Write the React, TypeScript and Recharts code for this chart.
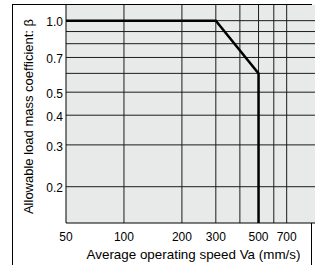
import React from 'react';
import {
  LineChart,
  Line,
  XAxis,
  YAxis,
  CartesianGrid,
  ReferenceLine,
} from 'recharts';

// axis limits (log scales)
const speedMin = 50;
const speedMax = 1000;
const betaMin = 0.1407;
const betaMax = 1.164;

// the limit curve: flat at 1.0 up to 300 mm/s, falls to 0.6 at 500, then drops
const speeds = [50, 300, 500, 500];
const betas = [1.0, 1.0, 0.6, betaMin];

const xTicks = [50, 100, 200, 300, 500, 700];
const yTicks = [0.2, 0.3, 0.4, 0.5, 0.7, 1.0];
const xGrid = [100, 200, 300, 400, 500, 600, 700];
const yGrid = [0.2, 0.3, 0.4, 0.5, 0.6, 0.7, 0.8, 0.9, 1.0];

const xTitle = 'Average operating speed Va (mm/s)';
const yTitle = 'Allowable load mass coefficient: β';

const data = speeds.map((s, i) => ({ speed: s, beta: betas[i] }));

const font = '"Liberation Sans", Arial, sans-serif';
const gridColor = '#1c1c1c';

const App: React.FC = () => {
  return (
    <div
      style={{
        position: 'absolute',
        left: 0,
        top: 0,
        width: 315,
        height: 265,
        overflow: 'hidden',
        background: '#fff',
        fontFamily: font,
      }}
    >
      {/* outer frame of the figure */}
      <div
        style={{
          position: 'absolute',
          left: 12,
          top: 4,
          width: 298,
          height: 300,
          border: '1px solid #000',
        }}
      />
      <LineChart
        width={330}
        height={265}
        data={data}
        margin={{ top: 5, right: 13.5, left: 0, bottom: 0 }}
        style={{ position: 'absolute', left: 0, top: 0 }}
      >
        <CartesianGrid horizontal={false} vertical={false} fill="#e8e9e9" />
        {xGrid.map((v) => (
          <ReferenceLine key={'x' + v} x={v} stroke={gridColor} strokeWidth={1} />
        ))}
        {yGrid.map((v) => (
          <ReferenceLine key={'y' + v} y={v} stroke={gridColor} strokeWidth={1} />
        ))}
        <XAxis
          dataKey="speed"
          type="number"
          scale="log"
          domain={[speedMin, speedMax]}
          allowDataOverflow
          ticks={xTicks}
          height={42}
          tickSize={0}
          tickMargin={9}
          tickLine={false}
          axisLine={{ stroke: '#000', strokeWidth: 1 }}
          tick={{ fill: '#000', fontSize: 12, fontFamily: font }}
          label={{
            content: () => (
              <text
                x={193.5}
                y={259}
                textAnchor="middle"
                fontSize={13.4}
                fontFamily={font}
                fill="#000"
              >
                {xTitle}
              </text>
            ),
          }}
        />
        <YAxis
          dataKey="beta"
          type="number"
          scale="log"
          domain={[betaMin, betaMax]}
          allowDataOverflow
          ticks={yTicks}
          width={66}
          tickSize={0}
          tickMargin={3}
          tickLine={false}
          axisLine={{ stroke: '#000', strokeWidth: 1 }}
          tick={{ fill: '#000', fontSize: 12, fontFamily: font, dy: 1.5 }}
          tickFormatter={(v: number) => v.toFixed(1)}
          label={{
            content: () => (
              <text
                transform="translate(33,116.5) rotate(-90)"
                textAnchor="middle"
                fontSize={13}
                fontFamily={font}
                fill="#000"
              >
                {yTitle}
              </text>
            ),
          }}
        />
        <Line
          type="linear"
          dataKey="beta"
          stroke="#000"
          strokeWidth={2.5}
          strokeLinejoin="miter"
          dot={false}
          activeDot={false}
          isAnimationActive={false}
        />
      </LineChart>
    </div>
  );
};

export default App;
